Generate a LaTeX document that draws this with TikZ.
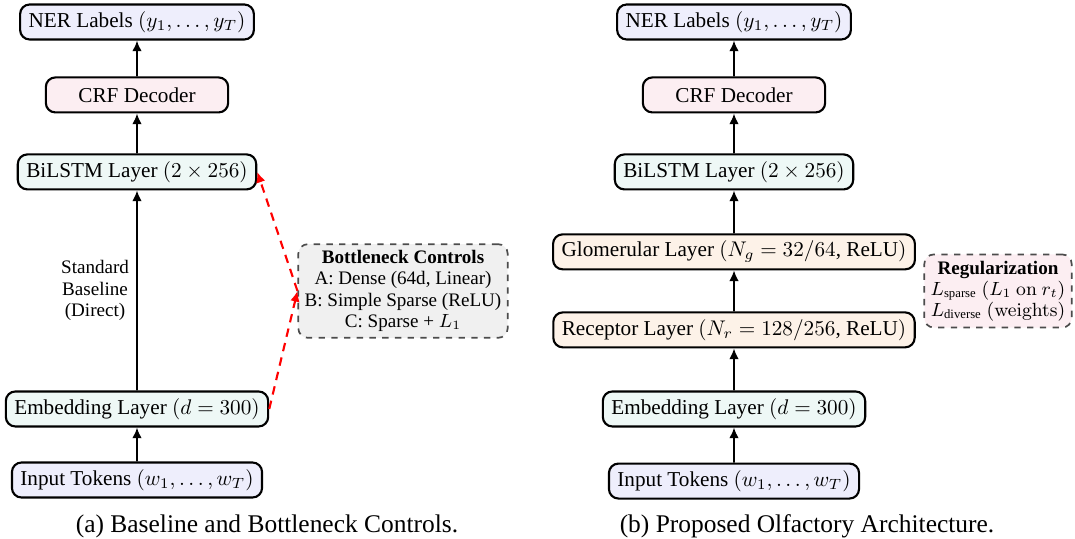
\documentclass[tikz,border=0pt]{standalone}
\usepackage{amsmath}
\usepackage[no-math]{fontspec}
\setmainfont{Liberation Serif}
\usepackage{tikz}
\usetikzlibrary{arrows.meta}
\usepackage{xcolor}
\definecolor{ioblue}{RGB}{238,238,252}
\definecolor{crfpink}{RGB}{252,238,242}
\definecolor{seqteal}{RGB}{238,248,246}
\definecolor{olfpeach}{RGB}{253,242,232}
\definecolor{ctrlgray}{RGB}{240,240,240}

\begin{document}
\begin{tikzpicture}[x=0.4716pt,y=-0.4716pt]%
  \tikzstyle{layer}=[rectangle,draw,line width=1pt,rounded corners=4.5pt,minimum height=16.5pt,inner xsep=4pt,inner ysep=2pt]
  \tikzstyle{flow}=[line width=0.9pt,{Latex[length=5pt,width=4.5pt]}-]
  \tikzstyle{note}=[rectangle,draw=black!70,dashed,thick,rounded corners=4.5pt,align=center,font=\fontsize{9}{10}\selectfont,inner sep=3pt]
  \tikzstyle{probe}=[red,line width=1pt,dash pattern=on 4pt off 3pt,-{Latex[length=5pt,width=4.5pt]}]
  \tikzstyle{caption}=[font=\fontsize{12}{14}\selectfont]
  \useasboundingbox (0,0) rectangle (1075,539);

  % (a) baseline with the bottleneck controls
  \begin{scope}[level 1/.style={level distance=34.4pt},
      level 2/.style={level distance=36.3pt},
      level 3/.style={level distance=111.8pt},
      level 4/.style={level distance=33.5pt}]
  \node(nerA)[layer,fill=ioblue] at (137,22) {NER Labels $(y_1,\ldots,y_T)$}
  child{node(crfA)[layer,fill=crfpink,minimum width=86pt]{CRF Decoder}
    child{node(lstmA)[layer,fill=seqteal]{BiLSTM Layer $(2\times256)$}
      child{node(embA)[layer,fill=seqteal]{Embedding Layer $(d=300)$}
        child{node(inA)[layer,fill=ioblue]{Input Tokens $(w_1,\ldots,w_T)$}
          edge from parent[flow]}
        edge from parent[flow]
        node(direct)[left,align=center,font=\fontsize{9}{10}\selectfont]{Standard\\Baseline\\(Direct)}
      }
      edge from parent[flow]
    }
    edge from parent[flow]
  };
  \end{scope}

  \node(ctrlbox)[note,fill=ctrlgray] at (403,291)
    {\textbf{Bottleneck Controls}\\A: Dense (64d, Linear)\\B: Simple Sparse (ReLU)\\C: Sparse + $L_1$};
  \draw[probe] (embA.east) -- (ctrlbox.west);
  \draw[probe] (ctrlbox.west) -- (lstmA.east);

  % (b) olfactory layers between embedding and BiLSTM
  \begin{scope}[level 1/.style={level distance=34.4pt},
      level 2/.style={level distance=36.3pt},
      level 3/.style={level distance=37.7pt},
      level 4/.style={level distance=36.8pt},
      level 5/.style={level distance=37.3pt},
      level 6/.style={level distance=34pt}]
  \node(nerB)[layer,fill=ioblue] at (734,22) {NER Labels $(y_1,\ldots,y_T)$}
  child{node(crfB)[layer,fill=crfpink,minimum width=86pt]{CRF Decoder}
    child{node(lstmB)[layer,fill=seqteal]{BiLSTM Layer $(2\times256)$}
      child{node(glomB)[layer,fill=olfpeach]{Glomerular Layer $(N_g=32/64$, ReLU$)$}
        child{node(recB)[layer,fill=olfpeach]{Receptor Layer $(N_r=128/256$, ReLU$)$}
          child{node(embB)[layer,fill=seqteal]{Embedding Layer $(d=300)$}
            child{node(inB)[layer,fill=ioblue]{Input Tokens $(w_1,\ldots,w_T)$}
              edge from parent[flow]}
            edge from parent[flow]}
          edge from parent[flow]}
        edge from parent[flow]}
      edge from parent[flow]}
    edge from parent[flow]
  };
  \end{scope}

  \node(regbox)[note,fill=crfpink] at (998,291)
    {\textbf{Regularization}\\$L_{\text{sparse}}$ $(L_1\ \mathrm{on}\ r_t)$\\$L_{\text{diverse}}$ $(\mathrm{weights})$};

  \node(capA)[caption] at (267,526) {(a) Baseline and Bottleneck Controls.};
  \node(capB)[caption] at (807,526) {(b) Proposed Olfactory Architecture.};
\end{tikzpicture}
\end{document}
